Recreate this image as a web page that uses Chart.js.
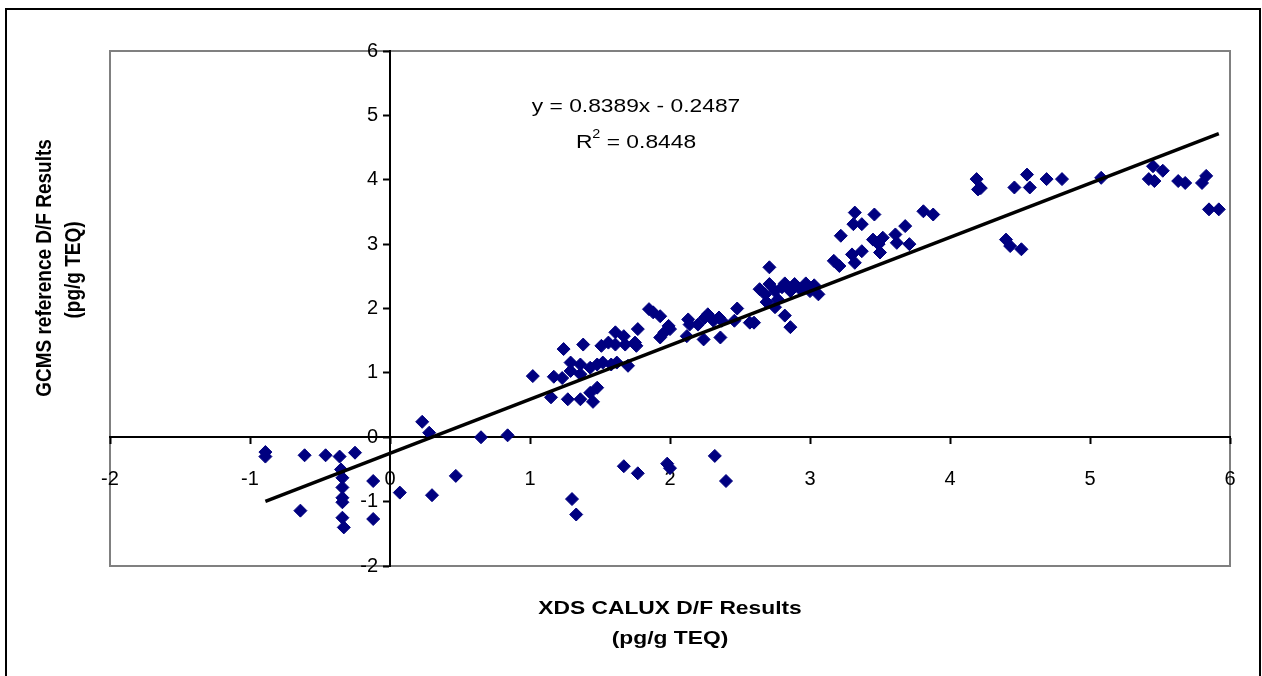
<!DOCTYPE html>
<html>
<head>
<meta charset="utf-8">
<script src="https://cdn.jsdelivr.net/npm/chart.js@4.4.1/dist/chart.umd.min.js"></script>
<style>
html,body{margin:0;padding:0;background:#fff;}
canvas{display:block;}
</style>
</head>
<body>
<canvas id="c" width="1262" height="676"></canvas>
<script>
// ---- data ----
const calux = [
  -0.89,-0.89,-0.61,-0.46,-0.36,-0.25,-0.35,-0.34,-0.34,-0.34,-0.34,-0.34,-0.33,-0.64,-0.12,-0.12,
  0.07,0.30,0.47,0.23,0.28,0.65,0.84,
  1.02,1.17,1.24,1.38,1.23,1.29,1.29,1.36,1.36,1.43,1.48,1.52,1.58,1.62,1.70,
  1.15,1.27,1.36,1.45,1.43,1.48,1.51,1.56,1.61,1.61,1.67,1.68,1.75,1.76,1.77,
  1.85,1.88,1.93,1.93,1.96,1.99,2.00,2.12,2.13,2.14,2.20,2.24,2.25,2.27,2.31,2.35,2.36,2.37,
  2.46,2.48,2.57,2.60,
  1.67,1.77,1.98,2.00,2.32,2.40,1.30,1.33,
  2.64,2.68,2.71,2.71,2.75,2.77,2.80,2.82,2.86,2.89,2.93,2.97,3.00,3.03,3.06,2.69,2.75,2.82,2.86,
  3.17,3.21,3.22,3.30,3.32,3.32,3.31,3.37,3.37,3.46,3.45,3.50,3.49,3.52,3.61,3.62,3.68,3.71,3.81,3.88,
  4.19,4.20,4.22,4.40,4.43,4.51,4.46,4.55,4.57,4.69,4.80,5.08,
  5.42,5.45,5.46,5.52,5.63,5.68,5.80,5.83,5.85,5.92
];
const gcms = [
  -0.23,-0.30,-0.28,-0.28,-0.30,-0.24,-0.50,-0.63,-0.78,-0.94,-1.01,-1.25,-1.40,-1.14,-0.68,-1.27,
  -0.86,-0.90,-0.60,0.24,0.07,0.00,0.03,
  0.95,0.94,1.37,1.44,0.92,1.16,1.03,1.13,0.98,1.08,1.13,1.16,1.13,1.16,1.11,
  0.62,0.59,0.59,0.55,0.69,0.77,1.42,1.47,1.63,1.44,1.57,1.44,1.47,1.42,1.68,
  1.99,1.94,1.88,1.55,1.63,1.73,1.68,1.57,1.83,1.75,1.75,1.52,1.86,1.91,1.81,1.86,1.55,1.81,
  1.81,2.00,1.78,1.78,
  -0.45,-0.56,-0.41,-0.48,-0.29,-0.68,-0.96,-1.20,
  2.30,2.22,2.64,2.38,2.27,2.14,2.33,2.39,2.27,2.38,2.30,2.39,2.27,2.36,2.22,2.10,2.02,1.89,1.71,
  2.74,2.66,3.13,2.84,2.71,3.49,3.31,3.31,2.89,3.46,3.07,2.87,3.00,3.10,3.15,3.02,3.28,3.00,3.51,3.46,
  4.01,3.85,3.87,3.07,2.97,2.92,3.88,4.08,3.88,4.01,4.01,4.03,
  4.01,4.21,3.98,4.14,3.98,3.95,3.95,4.06,3.54,3.54
];
const slope = 0.8389;
const intercept = -0.2487;
const equationText = 'y = 0.8389x - 0.2487';
const r2Label = '0.8448';
const xTitle = ['XDS CALUX D/F Results', '(pg/g TEQ)'];
const yTitle = ['GCMS reference D/F Results', '(pg/g TEQ)'];
const axisMin = -2, axisMax = 6;

// ---- build ----
const points = calux.map((x, i) => ({x: x, y: gcms[i]}));
const xLo = Math.min(...calux), xHi = Math.max(...calux);
const trend = [{x: xLo, y: slope * xLo + intercept}, {x: xHi, y: slope * xHi + intercept}];

const FONT = "'Liberation Sans', Arial, sans-serif";
const HSTRETCH = 1.2;

function stretchedText(ctx, text, cx, cy, font, align) {
  ctx.save();
  ctx.font = font;
  ctx.translate(cx, cy);
  ctx.scale(HSTRETCH, 1);
  ctx.textAlign = align || 'center';
  ctx.fillText(text, 0, 0);
  ctx.restore();
}

const decor = {
  id: 'decor',
  beforeDraw(chart) {
    const ctx = chart.ctx, a = chart.chartArea;
    ctx.save();
    ctx.fillStyle = '#fff';
    ctx.fillRect(0, 0, chart.width, chart.height);
    ctx.strokeStyle = '#000';
    ctx.lineWidth = 2;
    ctx.strokeRect(6, 9, 1254, 720);
    ctx.strokeStyle = '#808080';
    ctx.lineWidth = 2;
    ctx.strokeRect(a.left, a.top, a.right - a.left, a.bottom - a.top);
    ctx.restore();
  },
  afterDraw(chart) {
    const ctx = chart.ctx;
    ctx.save();
    ctx.fillStyle = '#000';
    ctx.textBaseline = 'middle';
    const bold = 'bold 19px ' + FONT;
    stretchedText(ctx, xTitle[0], 670, 609, bold);
    stretchedText(ctx, xTitle[1], 670, 639, bold);
    [[yTitle[0], 45, 268], [yTitle[1], 74, 270]].forEach(([t, x, y]) => {
      ctx.save();
      ctx.font = bold;
      ctx.textAlign = 'center';
      ctx.translate(x, y);
      ctx.scale(HSTRETCH, 1);
      ctx.rotate(-Math.PI / 2);
      ctx.fillText(t, 0, 0);
      ctx.restore();
    });
    const reg = '19px ' + FONT;
    stretchedText(ctx, equationText, 636, 107, reg);
    ctx.font = reg;
    const w1 = ctx.measureText('R').width * HSTRETCH;
    const rest = ' = ' + r2Label;
    const w3 = ctx.measureText(rest).width * HSTRETCH;
    ctx.font = '12px ' + FONT;
    const w2 = ctx.measureText('2').width * HSTRETCH;
    const sx = 636 - (w1 + w2 + w3) / 2;
    stretchedText(ctx, 'R', sx, 143, reg, 'left');
    stretchedText(ctx, '2', sx + w1, 135, '12px ' + FONT, 'left');
    stretchedText(ctx, rest, sx + w1 + w2, 143, reg, 'left');
    ctx.restore();
  }
};

const tickFont = {family: FONT, size: 20};

new Chart(document.getElementById('c'), {
  type: 'scatter',
  data: {
    datasets: [
      {
        data: points,
        pointStyle: 'rectRot',
        pointRadius: 6.5,
        pointHoverRadius: 6.5,
        backgroundColor: '#000080',
        borderColor: '#000080',
        borderWidth: 1,
        order: 2
      },
      {
        type: 'line',
        data: trend,
        borderColor: '#000',
        borderWidth: 3.5,
        pointRadius: 0,
        fill: false,
        order: 1
      }
    ]
  },
  options: {
    responsive: false,
    animation: false,
    events: [],
    layout: {padding: {left: 110, top: 51, right: 32, bottom: 110}},
    plugins: {legend: {display: false}, tooltip: {enabled: false}},
    scales: {
      x: {
        type: 'linear',
        min: axisMin, max: axisMax,
        position: {y: 0},
        grid: {display: true, drawOnChartArea: false, drawTicks: true, tickLength: 6, tickColor: '#000', tickWidth: 2},
        border: {display: true, color: '#000', width: 2},
        ticks: {stepSize: 1, color: '#000', font: tickFont, padding: 24, maxRotation: 0, autoSkip: false}
      },
      y: {
        type: 'linear',
        min: axisMin, max: axisMax,
        position: {x: 0},
        grid: {display: true, drawOnChartArea: false, drawTicks: true, tickLength: 6, tickColor: '#000', tickWidth: 2},
        border: {display: true, color: '#000', width: 2},
        ticks: {display: false, stepSize: 1}
      },
      yLabels: {
        type: 'linear',
        axis: 'y',
        min: axisMin, max: axisMax,
        position: {x: -0.085},
        grid: {display: false},
        border: {display: false},
        ticks: {stepSize: 1, color: '#000', font: tickFont, padding: 0, autoSkip: false}
      }
    }
  },
  plugins: [decor]
});
</script>
</body>
</html>
